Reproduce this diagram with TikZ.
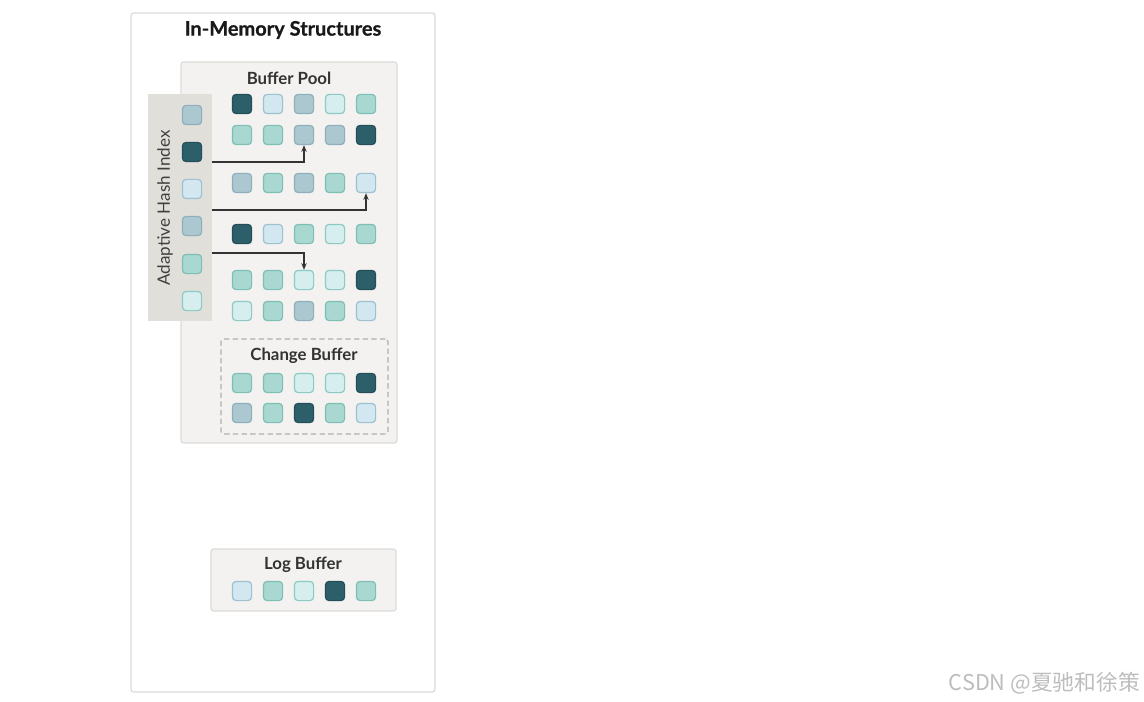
\documentclass[tikz,border=0pt]{standalone}
\usepackage{fontspec}
\setmainfont{Lato}
\newfontfamily\titlefont[FakeBold=0.6]{Lato}
\newfontfamily\cjk{Noto Sans CJK SC}
\usetikzlibrary{fit,arrows.meta}
\definecolor{cdark}{HTML}{2D5F6B}
\definecolor{cdarkb}{HTML}{234D57}
\definecolor{cteal}{HTML}{A8D8D0}
\definecolor{ctealb}{HTML}{7DBFB4}
\definecolor{cgray}{HTML}{ABC8D0}
\definecolor{cgrayb}{HTML}{8DAFBA}
\definecolor{clblue}{HTML}{D3E7F0}
\definecolor{clblueb}{HTML}{9DC2CF}
\definecolor{cvlight}{HTML}{D6EFEE}
\definecolor{cvlightb}{HTML}{8CCAC3}
\definecolor{boxfill}{HTML}{F3F2F0}
\definecolor{boxline}{HTML}{DDDBD8}
\definecolor{ahifill}{HTML}{E1DFDA}
\definecolor{txt}{HTML}{333333}
\definecolor{wm}{HTML}{BDBDBD}
\tikzset{
  sq/.style={rectangle, minimum size=14.4pt, inner sep=0pt, rounded corners=2.8pt, line width=0.9pt},
  D/.style={sq, fill=cdark, draw=cdarkb},
  T/.style={sq, fill=cteal, draw=ctealb},
  G/.style={sq, fill=cgray, draw=cgrayb},
  B/.style={sq, fill=clblue, draw=clblueb},
  V/.style={sq, fill=cvlight, draw=cvlightb},
  panel/.style={rectangle, inner sep=0pt, rounded corners=2pt, line width=0.9pt},
  lbl/.style={text=txt, font=\bfseries\fontsize{12.6}{14}\selectfont, inner sep=0pt},
  conn/.style={draw=txt, line width=0.8pt, -{Stealth[length=5pt,width=4pt]}}
}
\begin{document}
\begin{tikzpicture}[x=0.75pt, y=-0.75pt]
\useasboundingbox (0,0) rectangle (1144,702);
% outer
\node[panel, fit={(131,13) (435,692)}, draw=boxline, fill=white] (outer) {};
\node[text=black!90, font=\titlefont\bfseries\fontsize{15}{17}\selectfont, inner sep=0pt] (title) at (283,30) {In-Memory Structures};
% buffer pool
\node[panel, fit={(181,62) (397,443)}, draw=boxline, fill=boxfill] (bp) {};
\node[lbl] (bptitle) at (289,78) {Buffer Pool};
% adaptive hash index
\node[rectangle, inner sep=0pt, fit={(148,94) (212,321)}, fill=ahifill] (ahi) {};
\node[lbl, font=\fontsize{12.8}{14}\selectfont, text=black!75, rotate=90] (ahititle) at (165,208) {Adaptive Hash Index};
\node[G] (h1) at (192,115) {};
\node[D] (h2) at (192,152) {};
\node[B] (h3) at (192,189) {};
\node[G] (h4) at (192,226) {};
\node[T] (h5) at (192,264) {};
\node[V] (h6) at (192,301) {};
% grid
\foreach \r/\y/\a/\b/\c/\d/\e in {1/104/D/B/G/V/T, 2/135/T/T/G/G/D, 3/183/G/T/G/T/B, 4/234/D/B/T/V/T, 5/280/T/T/V/V/D, 6/311/V/T/G/T/B}{
  \node[\a] (bp\r1) at (242,\y) {};
  \node[\b] (bp\r2) at (273,\y) {};
  \node[\c] (bp\r3) at (304,\y) {};
  \node[\d] (bp\r4) at (335,\y) {};
  \node[\e] (bp\r5) at (366,\y) {};
}
% arrows
\coordinate (a1) at (212,162);
\coordinate (a2) at (212,210);
\coordinate (a3) at (212,253);
\draw[conn] (a1) -| (bp23.south);
\draw[conn] (a2) -| (bp35.south);
\draw[conn] (a3) -| (bp53.north);
% change buffer
\node[panel, fit={(221,339) (388,434)}, draw=boxline!80!black, dashed, dash pattern=on 4pt off 2.5pt] (cb) {};
\node[lbl] (cbtitle) at (304,356) {Change Buffer};
\foreach \r/\y/\a/\b/\c/\d/\e in {1/383/T/T/V/V/D, 2/413/G/T/D/T/B}{
  \node[\a] (cb\r1) at (242,\y) {};
  \node[\b] (cb\r2) at (273,\y) {};
  \node[\c] (cb\r3) at (304,\y) {};
  \node[\d] (cb\r4) at (335,\y) {};
  \node[\e] (cb\r5) at (366,\y) {};
}
% log buffer
\node[panel, fit={(211,549) (396,611)}, draw=boxline, fill=boxfill] (lb) {};
\node[lbl] (lbtitle) at (303,565) {Log Buffer};
\node[B] (lb1) at (242,591) {};
\node[T] (lb2) at (273,591) {};
\node[V] (lb3) at (304,591) {};
\node[D] (lb4) at (335,591) {};
\node[T] (lb5) at (366,591) {};
% watermark
\node[text=wm, font=\cjk\fontsize{16.3}{18}\selectfont, inner sep=0pt, anchor=east] (wm) at (1140,683) {CSDN @夏驰和徐策};
\end{tikzpicture}
\end{document}
